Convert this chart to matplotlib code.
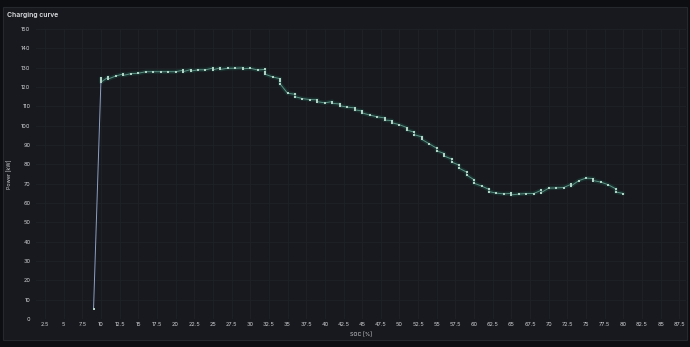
import matplotlib.pyplot as plt
from matplotlib.patches import Rectangle

# SOC [%] und Leistung [kW], mehrfache Werte bei gleichem SOC = Messwert-Cluster
soc = [9,
       10, 10, 10, 11, 11, 12, 13, 13, 14, 15, 16, 17, 18, 19, 20,
       21, 21, 22, 22, 23, 24, 25, 25, 26, 26, 27, 28, 29, 29, 30, 31,
       32, 32, 32, 33, 34, 34, 34, 35, 36, 36, 37, 38, 39, 39, 40,
       41, 41, 42, 42, 43, 44, 44, 45, 45, 46, 47, 48, 48, 49, 49, 50,
       51, 51, 52, 52, 53, 53, 54, 55, 55, 56, 56, 57, 57, 58, 58,
       59, 59, 60, 60, 61, 62, 62, 63, 64, 65, 65, 66, 67, 68, 69, 69,
       70, 71, 72, 73, 73, 74, 75, 76, 76, 77, 78, 79, 79, 80]
power = [5,
         124.5, 123.5, 122.5, 125.2, 124.2, 125.7, 126.8, 126.0, 126.9, 127.1,
         127.9, 127.9, 127.9, 127.9, 127.9,
         128.7, 127.9, 129.0, 128.2, 128.9, 128.9, 129.8, 128.9, 129.9, 129.1,
         129.7, 129.7, 129.9, 129.4, 129.7, 128.8,
         129.1, 127.7, 126.6, 125.2, 124.3, 123.0, 121.6, 116.8, 116.2, 115.0,
         114.0, 113.5, 113.4, 112.4, 111.8,
         112.5, 111.6, 111.2, 110.3, 109.6, 109.2, 108.2, 107.6, 106.6, 105.5,
         104.6, 104.0, 102.9, 102.6, 101.5, 100.5,
         99.0, 97.8, 96.6, 95.3, 94.2, 92.9, 90.6, 88.3, 87.0, 85.6, 84.3,
         82.7, 81.2, 79.5, 78.0,
         76.0, 74.5, 72.0, 70.2, 68.8, 67.0, 65.9, 65.1, 64.7, 65.0, 64.2,
         64.6, 64.9, 64.9, 66.6, 65.4,
         67.7, 67.8, 68.0, 69.7, 68.8, 71.5, 72.9, 72.6, 71.6, 70.8, 69.4,
         67.3, 65.7, 64.9]

x_ticks = [2.5 * i for i in range(1, 36)]
y_ticks = list(range(0, 151, 10))

plt.rcParams['font.family'] = ['Inter', 'DejaVu Sans']
txt = '#d2d3d7'

fig = plt.figure(figsize=(6.9, 3.47), dpi=100, facecolor='#0d0e11')
# Panel-Hintergrund
fig.patches.append(Rectangle((3/690, 7/347), 684/690, 333/347, transform=fig.transFigure,
                             facecolor='#17191e', edgecolor='#25282d', lw=0.8, zorder=-10))
fig.text(7/690, 1 - 15/347, 'Charging curve', color='#e0e1e4', fontsize=4.9,
         fontweight='semibold', va='center', ha='left')

ax = fig.add_axes([36/690, 28/347, 650/690, 290/347])
ax.set_facecolor('#17191e')
ax.set_xlim(1.29, 88.4)
ax.set_ylim(0, 150)
ax.set_xticks(x_ticks)
ax.set_xticklabels(['%g' % t for t in x_ticks])
ax.set_yticks(y_ticks)
ax.tick_params(length=0, labelsize=4.0, colors=txt)
ax.tick_params(axis='y', pad=4.0)
ax.tick_params(axis='x', pad=2.5)
ax.grid(True, color='#212429', lw=0.5)
for s in ax.spines.values():
    s.set_visible(False)
ax.set_axisbelow(True)
ax.set_ylabel('Power [kW]', color=txt, fontsize=3.8, labelpad=6)
ax.set_xlabel('SOC [%]', color=txt, fontsize=3.8, labelpad=3)

# erstes Segment (Sprung) bläulich
ax.plot(soc[:2], power[:2], color='#8e9fc2', lw=0.7, zorder=3)
# Glow + Linie + Punkte
ax.plot(soc[1:], power[1:], color='#1b3633', lw=3.0, alpha=0.8, solid_capstyle='round', zorder=2)
ax.plot(soc[1:], power[1:], color='#5c9184', lw=0.7, zorder=3)
ax.plot(soc, power, ls='none', marker='s', ms=1.6, color='#b3d3c7', mew=0, zorder=4)

fig.savefig('out.png', dpi=100, facecolor=fig.get_facecolor())
